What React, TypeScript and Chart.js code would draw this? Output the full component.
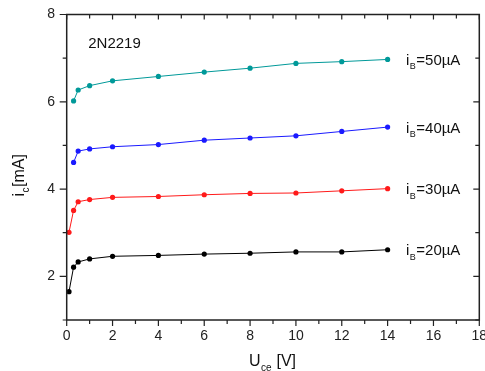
import React, { useEffect, useRef } from "react";
import { Chart, registerables } from "chart.js";

Chart.register(...registerables);

const xLow = [0.1, 0.3, 0.5, 1, 2, 4, 6, 8, 10, 12, 14];
const xHigh = [0.3, 0.5, 1, 2, 4, 6, 8, 10, 12, 14];
const ib20 = [1.65, 2.21, 2.33, 2.4, 2.46, 2.48, 2.51, 2.53, 2.56, 2.56, 2.61];
const ib30 = [3.01, 3.51, 3.71, 3.76, 3.81, 3.83, 3.87, 3.9, 3.91, 3.96, 4.01];
const ib40 = [4.61, 4.87, 4.92, 4.97, 5.02, 5.12, 5.17, 5.22, 5.32, 5.42];
const ib50 = [6.02, 6.27, 6.37, 6.48, 6.58, 6.68, 6.77, 6.88, 6.92, 6.97];
const seriesCurrents = ["20", "30", "40", "50"];
const xTicks = [0, 2, 4, 6, 8, 10, 12, 14, 16, 18];
const yTicks = [2, 4, 6, 8];
const deviceName = "2N2219";

const FONT = "'Liberation Sans', Arial, sans-serif";

function drawSubText(
  ctx: CanvasRenderingContext2D,
  parts: { t: string; sub?: boolean }[],
  x: number,
  y: number,
  size: number,
  align: "left" | "center"
) {
  const subSize = Math.round(size * 0.6);
  let total = 0;
  for (const p of parts) {
    ctx.font = `${p.sub ? subSize : size}px ${FONT}`;
    total += ctx.measureText(p.t).width + (p.sub ? 1 : 0);
  }
  let cx = align === "center" ? x - total / 2 : x;
  ctx.textBaseline = "alphabetic";
  ctx.textAlign = "left";
  for (const p of parts) {
    ctx.font = `${p.sub ? subSize : size}px ${FONT}`;
    ctx.fillText(p.t, cx + (p.sub ? 0.5 : 0), p.sub ? y + size * 0.3 : y);
    cx += ctx.measureText(p.t).width + (p.sub ? 1 : 0);
  }
}

const framePlugin = {
  id: "framePlugin",
  afterDatasetsDraw(chart: any) {
    const { ctx, chartArea } = chart;
    const xs = chart.scales.x;
    const ys = chart.scales.y;
    const { left, right, top, bottom } = chartArea;
    ctx.save();
    ctx.strokeStyle = "#222";
    ctx.lineWidth = 1.5;
    ctx.strokeRect(left, top, right - left, bottom - top);
    ctx.lineWidth = 1.2;
    ctx.beginPath();
    for (let v = 0; v <= 18; v++) {
      const px = xs.getPixelForValue(v);
      const major = v % 2 === 0;
      ctx.moveTo(px, bottom);
      ctx.lineTo(px, bottom + (major ? 6 : 4));
      ctx.moveTo(px, top);
      ctx.lineTo(px, top + (major ? 5 : 4));
    }
    for (let v = 1; v <= 8; v++) {
      const py = ys.getPixelForValue(v);
      const major = v % 2 === 0;
      ctx.moveTo(left, py);
      ctx.lineTo(left - (major ? 7 : 4), py);
      ctx.moveTo(right, py);
      ctx.lineTo(right - (major ? 6 : 4), py);
    }
    ctx.stroke();

    ctx.fillStyle = "#111";
    // device name
    drawSubText(ctx, [{ t: deviceName }], xs.getPixelForValue(0.94), ys.getPixelForValue(7.35) + 5.5, 15, "left");
    // series labels
    const lastVals = [ib20, ib30, ib40, ib50].map((a) => a[a.length - 1]);
    seriesCurrents.forEach((c, i) => {
      drawSubText(
        ctx,
        [{ t: "i" }, { t: "B", sub: true }, { t: "=" + c + "\u00b5A" }],
        xs.getPixelForValue(14.8),
        ys.getPixelForValue(lastVals[i]) + 5.5,
        15,
        "left"
      );
    });
    // x title
    drawSubText(
      ctx,
      [{ t: "U" }, { t: "ce", sub: true }, { t: " [V]" }],
      (left + right) / 2 - 0.5,
      366,
      16,
      "center"
    );
    // y title
    ctx.save();
    ctx.translate(24, (top + bottom) / 2 + 8);
    ctx.rotate(-Math.PI / 2);
    drawSubText(ctx, [{ t: "i" }, { t: "c", sub: true }, { t: "[mA]" }], 0, 0, 16, "center");
    ctx.restore();
    ctx.restore();
  },
};

export default function App() {
  const ref = useRef<HTMLCanvasElement | null>(null);
  useEffect(() => {
    document.body.style.margin = "0";
    const mk = (xv: number[], yv: number[]) => xv.map((x, i) => ({ x, y: yv[i] }));
    const ds = (label: string, data: any, color: string) => ({
      label,
      data,
      borderColor: color,
      backgroundColor: color,
      borderWidth: 1,
      pointRadius: 2.6,
      pointBorderWidth: 0,
      pointHoverRadius: 2.6,
      tension: 0,
    });
    const chart = new Chart(ref.current as HTMLCanvasElement, {
      type: "line",
      data: {
        datasets: [
          ds("iB=20µA", mk(xLow, ib20), "#000000"),
          ds("iB=30µA", mk(xLow, ib30), "#ff1a1a"),
          ds("iB=40µA", mk(xHigh, ib40), "#1a1aff"),
          ds("iB=50µA", mk(xHigh, ib50), "#009999"),
        ],
      },
      options: {
        animation: false,
        responsive: false,
        events: [],
        layout: { padding: { top: 14.5, right: 5.7, left: 0, bottom: 0 } },
        plugins: { legend: { display: false }, tooltip: { enabled: false } },
        scales: {
          x: {
            type: "linear",
            min: 0,
            max: 18,
            grid: { display: false, drawTicks: false, tickLength: 0 },
            border: { display: false },
            afterBuildTicks: (s: any) => {
              s.ticks = xTicks.map((v) => ({ value: v }));
            },
            afterFit: (s: any) => {
              s.height = 51;
              s.paddingLeft = 0;
              s.paddingRight = 0;
            },
            ticks: {
              autoSkip: false,
              maxRotation: 0,
              padding: 7.5,
              color: "#222",
              font: { size: 14, family: FONT },
            },
          },
          y: {
            type: "linear",
            min: 1,
            max: 8,
            grid: { display: false, drawTicks: false, tickLength: 0 },
            border: { display: false },
            afterBuildTicks: (s: any) => {
              s.ticks = yTicks.map((v) => ({ value: v }));
            },
            afterFit: (s: any) => {
              s.width = 66.7;
              s.paddingTop = 0;
              s.paddingBottom = 0;
            },
            ticks: {
              autoSkip: false,
              padding: 11.7,
              color: "#222",
              font: { size: 14, family: FONT },
            },
          },
        },
      },
      plugins: [framePlugin],
    } as any);
    return () => chart.destroy();
  }, []);
  return (
    <div style={{ position: "absolute", left: 0, top: 0, width: 485, height: 371, background: "#fff" }}>
      <canvas ref={ref} width={485} height={371} style={{ width: 485, height: 371, display: "block" }} />
    </div>
  );
}
